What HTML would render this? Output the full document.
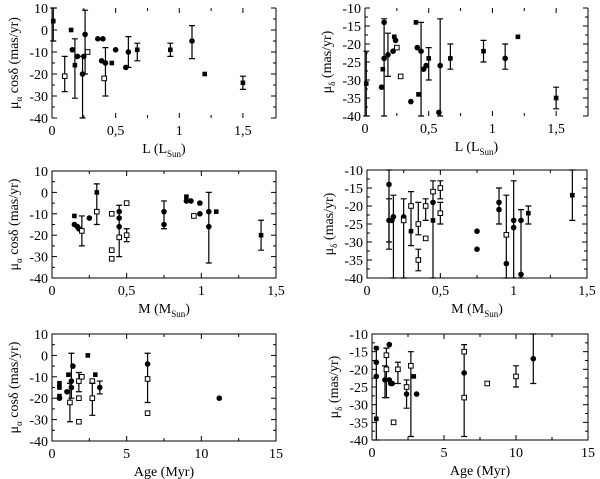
<!DOCTYPE html>
<html><head><meta charset="utf-8">
<style>
html,body{margin:0;padding:0;background:#fff;}
svg{display:block;}
svg text{font-family:"Liberation Serif","DejaVu Serif",serif;}
</style></head>
<body>
<svg id="fig" width="600" height="479" viewBox="0 0 600 479" xmlns="http://www.w3.org/2000/svg" font-family="Liberation Serif, serif"></svg>
<script>
// ---- Panel data (x, y, lower error, upper error, marker: c=filled circle, s=filled square, o=open square)
const p1X=[0.01,0.15,0.16,0.18,0.2,0.1,0.24,0.26,0.25,0.28,0.36,0.4,0.39,0.42,0.41,0.47,0.5,0.58,0.6,0.67,0.93,1.1,1.2,1.5];
const p1Y=[4,0,-9,-16,-12,-21,-20,-2,-12,-10,-4,-4,-14,-15,-22,-15,-9,-17,-10,-9,-9,-5,-20,-24];
const p1Lo=[-5,null,null,-31,null,-28,-40,-20,null,null,null,null,null,-30,null,null,null,null,-17,-14,-12,-13,null,-27];
const p1Hi=[10,null,null,-4,null,-12,-12,9,null,null,null,null,null,-8,null,null,null,null,-3,-6,-6,2,null,-21];
const p1M=['s','s','c','s','c','o','c','c','c','o','c','c','c','c','o','s','c','c','c','s','s','c','s','s'];

const p2X=[0.01,0.15,0.15,0.14,0.13,0.18,0.23,0.22,0.24,0.25,0.28,0.36,0.4,0.41,0.42,0.44,0.46,0.48,0.5,0.58,0.59,0.67,0.93,1.1,1.2,1.5];
const p2Y=[-31,-14,-24,-27,-32,-23,-18,-22,-19,-21,-29,-36,-14,-21,-34,-22,-27,-26,-24,-39,-26,-24,-22,-24,-18,-35];
const p2Lo=[-40,-40,null,null,null,-29,null,null,null,null,null,null,null,null,null,-40,null,null,-30,null,-40,-27,-25,-27,null,-38];
const p2Hi=[-22,-13,null,null,null,-17,null,null,null,null,null,null,null,null,null,-14,null,null,-21,null,-13,-20,-19,-20,null,-32];
const p2M=['s','c','c','s','c','c','s','c','c','o','o','c','s','c','s','c','c','c','s','c','c','s','s','c','s','s'];

const p3X=[0.15,0.15,0.17,0.18,0.2,0.25,0.3,0.3,0.4,0.4,0.4,0.45,0.45,0.45,0.45,0.5,0.5,0.75,0.75,0.9,0.9,0.93,0.95,0.99,0.99,1.05,1.05,1.1,1.4];
const p3Y=[-11,-15,-16,-17,-18,-12,0,-9,-10,-27,-31,-9,-12,-16,-21,-20,-5,-9,-15,-2,-4,-4,-11,-5,-10,-9,-16,-9,-20];
const p3Lo=[null,null,null,null,-25,null,-15,null,null,null,null,-30,null,null,null,-23,null,-17,null,null,null,null,null,null,null,-33,null,null,-27];
const p3Hi=[null,null,null,null,-11,null,4,null,null,null,null,-6,null,null,null,-17,null,-4,null,null,null,null,null,null,null,0,null,null,-13];
const p3M=['s','c','c','c','o','c','s','o','o','o','o','c','c','c','o','o','o','c','c','s','c','c','o','c','c','c','c','s','s'];

const p4X=[0.15,0.15,0.17,0.18,0.25,0.25,0.3,0.3,0.35,0.35,0.4,0.4,0.45,0.45,0.45,0.5,0.5,0.75,0.75,0.9,0.9,0.95,0.95,1.0,1.0,1.05,1.05,1.1,1.4];
const p4Y=[-14,-24,-24,-23,-23,-24,-27,-20,-25,-35,-20,-29,-24,-19,-16,-15,-22,-27,-32,-19,-21,-36,-28,-24,-26,-24,-39,-22,-17];
const p4Lo=[-32,-30,null,-40,-40,null,-31,null,-28,-38,-24,null,-40,null,null,-18,-25,null,null,-25,null,null,-40,-40,null,-40,null,-25,-24];
const p4Hi=[-10,-18,null,-17,-18,null,-16,null,-19,-32,-18,null,-13,null,null,-13,-19,null,null,-15,null,null,-17,-13,null,-21,null,-20,-10];
const p4M=['c','c','c','c','c','o','s','o','o','o','o','o','s','c','o','o','o','c','c','c','c','c','o','c','c','c','c','s','s'];

const p5X=[0.5,0.5,0.5,0.5,1.0,1.1,1.2,1.3,1.4,1.3,1.8,1.8,1.8,2.0,2.4,2.7,2.7,2.9,3.2,6.4,6.4,6.4,11.2];
const p5Y=[-13,-15,-19,-20,-17,-9,-22,-15,-5,-12,-12,-20,-31,-10,0,-12,-20,-9,-15,-4,-11,-27,-20];
const p5Lo=[null,null,null,null,null,null,-31,-20,null,null,-17,null,null,null,null,null,-28,null,-18,-22,null,null,null];
const p5Hi=[null,null,null,null,null,null,-13,1,null,null,-8,null,null,null,null,null,-13,null,-12,1,null,null,null];
const p5M=['s','s','s','c','c','s','o','c','c','c','o','o','o','o','s','o','o','s','c','c','o','o','c'];

const p6X=[0.3,0.3,0.3,0.3,0.9,1.0,1.0,1.2,1.2,1.3,1.4,1.8,1.5,2.4,2.4,2.7,2.9,3.1,6.4,6.4,6.4,8,10,11.2];
const p6Y=[-14,-18,-22,-34,-23,-16,-20,-13,-23,-24,-24,-20,-35,-27,-25,-19,-22,-27,-15,-21,-28,-24,-22,-17];
const p6Lo=[null,null,null,-40,-28,-28,null,null,null,null,null,-24,null,-31,null,-39,null,null,-39,null,null,null,-25,-24];
const p6Hi=[null,null,null,-14,-19,-14,null,null,null,null,null,-18,null,-23,null,-15,null,null,-13,null,null,null,-19,-10];
const p6M=['s','c','c','s','c','o','o','c','c','c','c','o','o','c','o','o','s','c','o','c','o','o','o','c'];

const xTicks1=[0,0.5,1,1.5], xTickLabels1=['0','0,5','1','1,5'];
const xTicks3=[0,5,10,15], xTickLabels3=['0','5','10','15'];
const yTicksA=[10,0,-10,-20,-30,-40], yTickLabelsA=['10','0','-10','-20','-30','-40'];
const yTicksB=[-10,-15,-20,-25,-30,-35,-40], yTickLabelsB=['-10','-15','-20','-25','-30','-35','-40'];

const NS='http://www.w3.org/2000/svg';
const svg=document.getElementById('fig');
const FF='Liberation Serif, DejaVu Serif, serif';
function mk(tag,attrs,parent){const e=document.createElementNS(NS,tag);for(const k in attrs)e.setAttribute(k,attrs[k]);if(tag==='text')e.setAttribute('font-family',FF);(parent||svg).appendChild(e);return e;}

const panels=[
 {id:'l-ra',L:52,R:276,T:8,B:118,x0:0,x1:1.76,y0:-40,y1:10,xt:xTicks1,xl:xTickLabels1,yt:yTicksA,yl:yTickLabelsA,X:p1X,Y:p1Y,Lo:p1Lo,Hi:p1Hi,M:p1M,xlab:'L (L',xsub:'Sun',ylab:'ra',box:false},
 {id:'l-dec',L:365,R:588,T:8,B:116,x0:0,x1:1.75,y0:-40,y1:-10,xt:xTicks1,xl:xTickLabels1,yt:yTicksB,yl:yTickLabelsB,X:p2X,Y:p2Y,Lo:p2Lo,Hi:p2Hi,M:p2M,xlab:'L (L',xsub:'Sun',ylab:'dec',box:false},
 {id:'m-ra',L:52,R:276,T:171,B:278,x0:0,x1:1.5,y0:-40,y1:10,xt:xTicks1,xl:xTickLabels1,yt:yTicksA,yl:yTickLabelsA,X:p3X,Y:p3Y,Lo:p3Lo,Hi:p3Hi,M:p3M,xlab:'M (M',xsub:'Sun',ylab:'ra',box:true},
 {id:'m-dec',L:367,R:587,T:170,B:278,x0:0,x1:1.5,y0:-40,y1:-10,xt:xTicks1,xl:xTickLabels1,yt:yTicksB,yl:yTickLabelsB,X:p4X,Y:p4Y,Lo:p4Lo,Hi:p4Hi,M:p4M,xlab:'M (M',xsub:'Sun',ylab:'dec',box:true},
 {id:'age-ra',L:52,R:276,T:334,B:441,x0:0,x1:15,y0:-40,y1:10,xt:xTicks3,xl:xTickLabels3,yt:yTicksA,yl:yTickLabelsA,X:p5X,Y:p5Y,Lo:p5Lo,Hi:p5Hi,M:p5M,xlab:'Age (Myr)',xsub:'',ylab:'ra',box:true},
 {id:'age-dec',L:372,R:588,T:334,B:440,x0:0,x1:15,y0:-40,y1:-10,xt:xTicks3,xl:xTickLabels3,yt:yTicksB,yl:yTickLabelsB,X:p6X,Y:p6Y,Lo:p6Lo,Hi:p6Hi,M:p6M,xlab:'Age (Myr)',xsub:'',ylab:'dec',box:true}
];

panels.forEach(p=>{
  const g=mk('g',{});
  
  
  const sx=v=>p.L+(v-p.x0)/(p.x1-p.x0)*(p.R-p.L);
  const sy=v=>p.B-(v-p.y0)/(p.y1-p.y0)*(p.B-p.T);
  const fr=mk('path',{d:p.box?`M${p.L},${p.T}H${p.R}V${p.B}H${p.L}Z`:`M${p.L},${p.T}V${p.B}M${p.R},${p.T}V${p.B}`,fill:'none',stroke:'#000','stroke-width':1},g);
  
  
  p.xt.forEach((t,i)=>{
    const x=sx(t);
    mk('line',{x1:x,x2:x,y1:p.B,y2:p.B-5,stroke:'#000'},g);
    mk('line',{x1:x,x2:x,y1:p.T,y2:p.T+5,stroke:'#000'},g);
    const tx=mk('text',{x:x,y:p.B+17,'text-anchor':'middle','font-size':14},g);
    tx.textContent=p.xl[i];
    
    
    if(i<p.xt.length-1){const xm=sx((t+p.xt[i+1])/2);
      mk('line',{x1:xm,x2:xm,y1:p.B,y2:p.B-3,stroke:'#000'},g);
      mk('line',{x1:xm,x2:xm,y1:p.T,y2:p.T+3,stroke:'#000'},g);}
  });
  p.yt.forEach((t,i)=>{
    const y=sy(t);
    mk('line',{x1:p.L,x2:p.L+5,y1:y,y2:y,stroke:'#000'},g);
    mk('line',{x1:p.R,x2:p.R-5,y1:y,y2:y,stroke:'#000'},g);
    const tx=mk('text',{x:p.L-4,y:y+5,'text-anchor':'end','font-size':14},g);
    tx.textContent=p.yl[i];
    
    
    if(i<p.yt.length-1){const ym=sy((t+p.yt[i+1])/2);
      mk('line',{x1:p.L,x2:p.L+3,y1:ym,y2:ym,stroke:'#000'},g);
      mk('line',{x1:p.R,x2:p.R-3,y1:ym,y2:ym,stroke:'#000'},g);}
  });
  const xl=mk('text',{x:(p.L+p.R)/2,y:p.B+35,'text-anchor':'middle','font-size':14},g);
  
  
  if(p.xsub){xl.textContent=p.xlab;const ts=mk('tspan',{'font-size':9,dy:4},xl);ts.textContent=p.xsub;const t2=mk('tspan',{dy:-4},xl);t2.textContent=')';}
  else xl.textContent=p.xlab;
  const cy=(p.T+p.B)/2, lx=p.L-34;
  const yl=mk('text',{x:lx,y:cy,'text-anchor':'middle','font-size':14,transform:`rotate(-90 ${lx} ${cy})`},g);
  
  
  yl.textContent='μ';
  const sb=mk('tspan',{'font-size':9,dy:4},yl); sb.textContent=p.ylab==='ra'?'α':'δ';
  const rest=mk('tspan',{dy:-4},yl); rest.textContent=p.ylab==='ra'?' cosδ (mas/yr)':' (mas/yr)';
  p.X.forEach((xv,i)=>{
    const x=sx(xv), y=sy(p.Y[i]);
    if(p.Lo[i]!==null){
      const eb=mk('path',{d:`M${x},${sy(p.Lo[i])}V${sy(p.Hi[i])}M${x-3},${sy(p.Lo[i])}h6M${x-3},${sy(p.Hi[i])}h6`,stroke:'#000','stroke-width':1.2,fill:'none'},g);
      
      
    }
    let m;
    if(p.M[i]==='c') m=mk('circle',{cx:x,cy:y,r:2.8,fill:'#000'},g);
    else if(p.M[i]==='s') m=mk('rect',{x:x-2.3,y:y-2.3,width:4.6,height:4.6,fill:'#000'},g);
    else m=mk('rect',{x:x-2.3,y:y-2.3,width:4.6,height:4.6,fill:'#fff',stroke:'#000','stroke-width':1},g);
    
    
  });
});
</script>
</body></html>
